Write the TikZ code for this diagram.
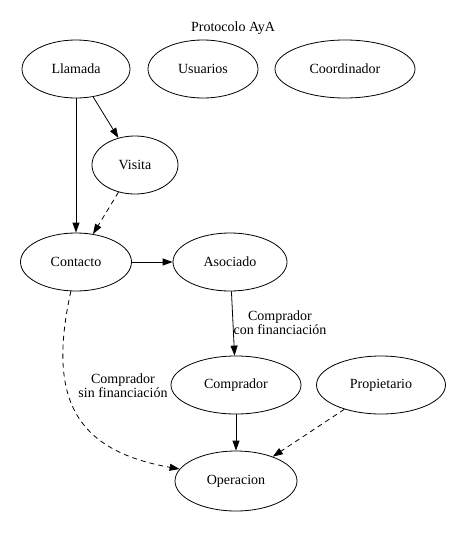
\documentclass[tikz,border=0pt]{standalone}
\usepackage{fontspec}
\setmainfont{Liberation Serif}
\usetikzlibrary{shapes.geometric,arrows.meta}

\tikzset{
  estado/.style={draw,ellipse,inner sep=0pt,minimum height=58pt,line width=0.8pt,
    font=\fontsize{14}{16}\selectfont},
  flecha/.style={line width=0.8pt,-{Triangle[length=10pt,width=7pt]}},
  opcional/.style={flecha,dash pattern=on 5pt off 4pt},
  etiqueta/.style={align=center,font=\fontsize{14}{14}\selectfont,inner sep=0pt}
}

\begin{document}
\begin{tikzpicture}[x=1pt,y=-1pt]
  \useasboundingbox (0,0) rectangle (467,533);
  \node[etiqueta] (titulo) at (233,28) {Protocolo AyA};

  % nodos
  \node[estado,minimum width=108pt] (Llamada) at (76,69) {Llamada};
  \node[estado,minimum width=110pt] (Usuarios) at (203,69) {Usuarios};
  \node[estado,minimum width=140pt] (Coordinador) at (345,69) {Coordinador};
  \node[estado,minimum width=86pt] (Visita) at (135,165) {Visita};
  \node[estado,minimum width=111pt] (Contacto) at (76,262) {Contacto};
  \node[estado,minimum width=114pt] (Asociado) at (230,262) {Asociado};
  \node[estado,minimum width=130pt] (Comprador) at (236,385) {Comprador};
  \node[estado,minimum width=129pt] (Propietario) at (381,385) {Propietario};
  \node[estado,minimum width=122pt,minimum height=60pt] (Operacion) at (236,481) {Operacion};

  % aristas
  \draw[flecha] (Llamada) -- (Contacto);
  \draw[flecha] (Llamada) -- (Visita);
  \draw[opcional] (Visita) -- (Contacto);
  \draw[flecha] (Contacto) -- (Asociado);
  \draw[flecha] (Asociado) -- (Comprador);
  \draw[flecha] (Comprador) -- (Operacion);
  \draw[opcional] (Propietario) -- (Operacion);
  \draw[opcional] (Contacto.-100) .. controls (48,395) and (72,450) .. (Operacion.168);

  % textos de las aristas
  \node[etiqueta] (confin) at (280,323) {Comprador\\con financiación};
  \node[etiqueta] (sinfin) at (123,386) {Comprador\\sin financiación};
\end{tikzpicture}
\end{document}
